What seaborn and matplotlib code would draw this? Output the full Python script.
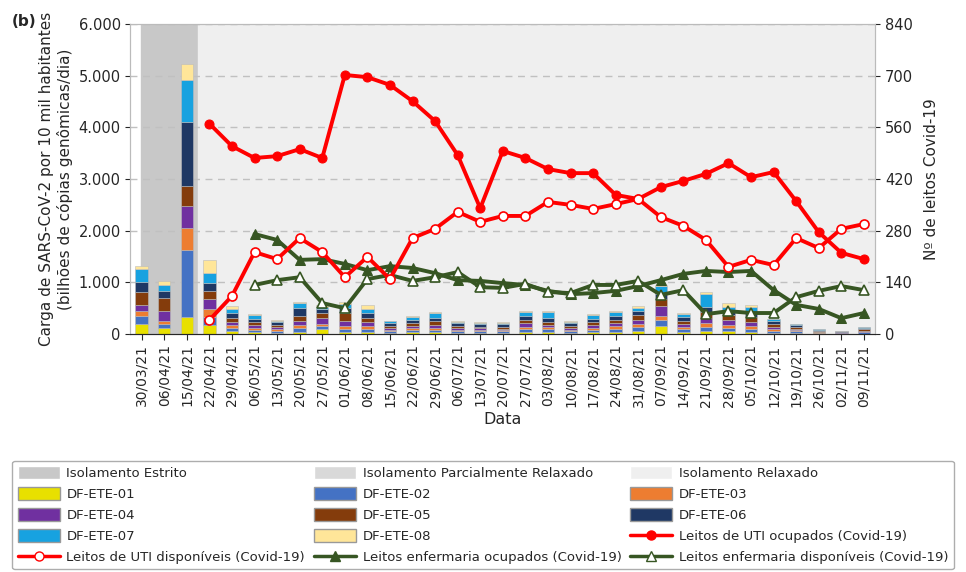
import numpy as np
import pandas as pd
import matplotlib
matplotlib.use("Agg")
import matplotlib.pyplot as plt
import seaborn as sns
from matplotlib.patches import Patch
from matplotlib.lines import Line2D

datas = ["30/03/21", "06/04/21", "15/04/21", "22/04/21", "29/04/21", "06/05/21", "13/05/21",
         "20/05/21", "27/05/21", "01/06/21", "08/06/21", "15/06/21", "22/06/21", "29/06/21",
         "06/07/21", "13/07/21", "20/07/21", "27/07/21", "03/08/21", "10/08/21", "17/08/21",
         "24/08/21", "31/08/21", "07/09/21", "14/09/21", "21/09/21", "28/09/21", "05/10/21",
         "12/10/21", "19/10/21", "26/10/21", "02/11/21", "09/11/21"]

# carga por ETE (bilhoes de copias / dia / 10 mil hab.)
ete01 = [200, 120, 330, 180, 50, 30, 20, 40, 90, 30, 40, 20, 30, 30, 20, 20, 20, 40, 40, 20, 30, 40, 60, 150, 40, 60, 50, 40, 20, 20, 10, 10, 10]
ete02 = [150, 80, 1300, 150, 70, 50, 40, 80, 60, 60, 60, 30, 40, 50, 30, 30, 30, 50, 50, 30, 50, 60, 70, 120, 60, 80, 70, 60, 40, 30, 10, 10, 20]
ete03 = [100, 60, 420, 150, 50, 40, 30, 50, 50, 60, 60, 30, 40, 40, 20, 20, 20, 50, 40, 30, 40, 50, 60, 80, 40, 70, 60, 50, 30, 20, 10, 5, 10]
ete04 = [120, 180, 430, 200, 70, 50, 40, 80, 120, 100, 80, 40, 50, 60, 40, 40, 30, 70, 50, 40, 50, 60, 80, 200, 60, 100, 100, 80, 50, 30, 10, 5, 20]
ete05 = [250, 260, 380, 150, 80, 60, 40, 100, 90, 150, 80, 40, 50, 70, 40, 30, 40, 70, 60, 40, 60, 70, 90, 130, 60, 110, 90, 100, 60, 30, 20, 10, 30]
ete06 = [180, 130, 1250, 150, 90, 70, 60, 150, 80, 100, 90, 50, 60, 70, 60, 50, 50, 70, 70, 50, 60, 70, 80, 100, 70, 100, 80, 90, 60, 40, 20, 10, 30]
ete07 = [260, 120, 800, 200, 80, 60, 30, 100, 40, 90, 80, 40, 60, 80, 30, 30, 30, 70, 110, 30, 70, 70, 70, 150, 50, 250, 80, 110, 30, 20, 10, 5, 10]
ete08 = [50, 80, 320, 250, 60, 20, 10, 20, 30, 30, 70, 10, 10, 20, 10, 10, 10, 30, 20, 10, 20, 30, 40, 20, 20, 50, 70, 30, 10, 10, 10, 5, 10]

# leitos (inicio em 22/04/21 e 06/05/21)
uti_ocup = [570, 509, 477, 482, 501, 477, 702, 696, 675, 631, 577, 485, 341, 496, 477, 447,
            436, 436, 377, 366, 398, 415, 434, 463, 425, 439, 360, 276, 220, 203]
uti_disp = [38, 103, 222, 203, 260, 222, 154, 209, 149, 260, 285, 331, 304, 320, 320, 358,
            350, 339, 352, 366, 317, 293, 255, 182, 201, 187, 260, 233, 285, 298]
enf_ocup = [271, 255, 201, 203, 190, 173, 184, 179, 165, 146, 144, 138, 133, 117, 108, 111,
            117, 130, 146, 163, 171, 168, 171, 119, 79, 68, 43, 57]
enf_disp = [133, 146, 154, 84, 70, 149, 160, 144, 154, 168, 127, 125, 136, 114, 111, 133,
            133, 144, 106, 119, 54, 62, 57, 57, 100, 117, 130, 119]

etes = ["DF-ETE-01", "DF-ETE-02", "DF-ETE-03", "DF-ETE-04", "DF-ETE-05", "DF-ETE-06", "DF-ETE-07", "DF-ETE-08"]
cores = ["#e8e000", "#4472c4", "#ed7d31", "#7030a0", "#843c0c", "#1f3864", "#17a2e0", "#ffe699"]

sns.set_style("white")
plt.rcParams['font.family'] = ['DejaVu Sans']

fig = plt.figure(figsize=(9.66, 5.72), dpi=100)
ax = fig.add_axes([0.135, 0.416, 0.771, 0.542])
ax2 = ax.twinx()

n = len(datas)
x = np.arange(n)
ax.axvspan(-0.05, 2.5, color="#c8c8c8", zorder=0)
ax.axvspan(2.5, n - 0.5, color="#efefef", zorder=0)

df = pd.DataFrame({"Data": datas, etes[0]: ete01, etes[1]: ete02, etes[2]: ete03, etes[3]: ete04,
                   etes[4]: ete05, etes[5]: ete06, etes[6]: ete07, etes[7]: ete08})
bottom = np.zeros(n)
for nome, cor in zip(etes, cores):
    ax.bar(x, df[nome], 0.55, bottom=bottom, color=cor, edgecolor="#bbbbbb", linewidth=0.4, zorder=2)
    bottom += df[nome].values

for yv in range(1000, 6001, 1000):
    ax.axhline(yv, color="#c0c0c0", ls=(0, (5, 4)), lw=1, zorder=1)

ax.set_xlim(-0.5, n - 0.5)
ax.set_ylim(0, 6000)
ax.set_yticks(range(0, 6001, 1000))
ax.set_yticklabels([f"{v:,}".replace(",", ".") for v in range(0, 6001, 1000)], fontsize=10.5)
ax.set_xticks(x)
ax.set_xticklabels(datas, rotation=90, fontsize=10)
ax.set_xlabel("Data", fontsize=11.5, labelpad=4)
ax.set_ylabel("Carga de SARS-CoV-2 por 10 mil habitantes\n(bilhões de cópias genômicas/dia)", fontsize=11)
ax.tick_params(axis="x", length=4, direction="out", bottom=True)

red = "#ff0000"
green = "#375623"
x_uti = x[3:]
x_enf = x[5:]
sns.lineplot(x=x_uti, y=uti_ocup, ax=ax2, color=red, lw=2.8, marker="o", markersize=6.5,
             markeredgecolor=red, zorder=5)
sns.lineplot(x=x_uti, y=uti_disp, ax=ax2, color=red, lw=2.8, marker="o", markersize=6.5,
             markerfacecolor="white", markeredgecolor=red, markeredgewidth=1.2, zorder=5)
sns.lineplot(x=x_enf, y=enf_ocup, ax=ax2, color=green, lw=2.8, marker="^", markersize=6.5,
             markeredgecolor=green, zorder=4)
sns.lineplot(x=x_enf, y=enf_disp, ax=ax2, color=green, lw=2.8, marker="^", markersize=6.5,
             markerfacecolor="white", markeredgecolor=green, markeredgewidth=1.2, zorder=4)
ax2.set_ylim(0, 840)
ax2.set_yticks(range(0, 841, 140))
ax2.tick_params(axis="y", labelsize=10.5)
ax2.set_ylabel("Nº de leitos Covid-19", fontsize=11, labelpad=8)
for s in ["top", "right", "left"]:
    ax.spines[s].set_color("#bbbbbb")
    ax2.spines[s].set_color("#bbbbbb")
ax.spines["bottom"].set_color("#555555")

fig.text(0.012, 0.955, "(b)", fontsize=11, fontweight="bold")

handles = [Patch(facecolor="#c8c8c8", label="Isolamento Estrito"),
           Patch(facecolor="#d9d9d9", label="Isolamento Parcialmente Relaxado"),
           Patch(facecolor="#efefef", label="Isolamento Relaxado")]
handles += [Patch(facecolor=c, edgecolor="#999999", label=e) for e, c in zip(etes, cores)]
handles += [Line2D([], [], color=red, lw=2.5, marker="o", markersize=6.5, label="Leitos de UTI ocupados (Covid-19)"),
            Line2D([], [], color=red, lw=2.5, marker="o", markersize=6.5, markerfacecolor="white",
                   label="Leitos de UTI disponíveis (Covid-19)"),
            Line2D([], [], color=green, lw=2.5, marker="^", markersize=6.5, label="Leitos enfermaria ocupados (Covid-19)"),
            Line2D([], [], color=green, lw=2.5, marker="^", markersize=6.5, markerfacecolor="white",
                   label="Leitos enfermaria disponíveis (Covid-19)")]
ordem = [handles[i] for c in range(3) for i in range(c, len(handles), 3)]
leg = fig.legend(handles=ordem, ncol=3, loc="lower center", bbox_to_anchor=(0.5, 0.0),
                 fontsize=9.5, frameon=True, handlelength=3.2, handleheight=1.1, handletextpad=0.5,
                 columnspacing=2, labelspacing=0.55, borderaxespad=0.2, mode="expand")
leg.get_frame().set_edgecolor("#999999")
leg.set_bbox_to_anchor((0.01, 0.0, 0.98, 0.24), transform=fig.transFigure)

fig.savefig("out.png", dpi=100)
